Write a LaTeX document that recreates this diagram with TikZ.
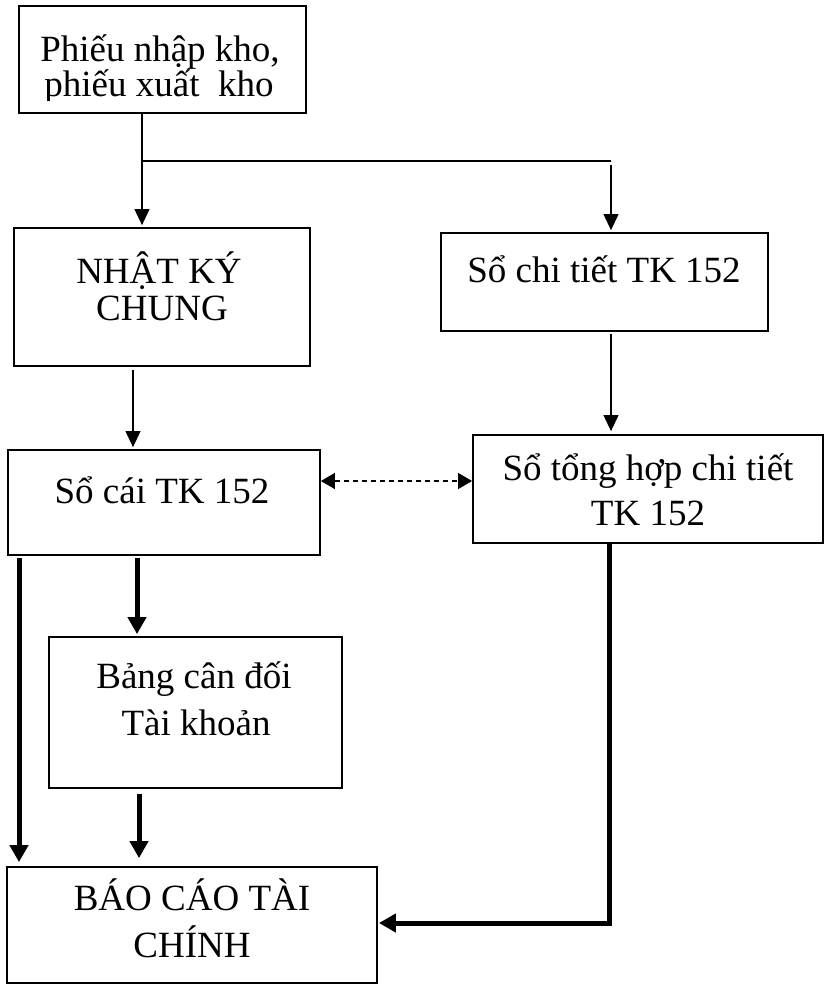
\documentclass[tikz,border=0pt]{standalone}
\usepackage{fontspec}
\setmainfont{Liberation Serif}
\usetikzlibrary{arrows.meta}

\tikzset{
  box/.style={draw, line width=1.8pt, rectangle, inner sep=0pt},
  lbl/.style={anchor=base, inner sep=0pt, font=\fontsize{37}{44}\selectfont},
  thinarrow/.style={line width=1.1pt, -{Triangle[length=16pt, width=15pt]}},
  thickarrow/.style={line width=5pt, -{Triangle[length=17pt, width=18pt]}},
  linkarrow/.style={line width=1.1pt, dash pattern=on 5pt off 4pt,
    {Triangle[length=14pt, width=16pt]}-{Triangle[length=14pt, width=16pt]}},
}

\begin{document}
\begin{tikzpicture}[x=1pt, y=-1pt]
  \useasboundingbox (0,0) rectangle (827,987);

  % boxes
  \node[box, minimum width=287pt, minimum height=107pt] (A) at (162.5,59.5) {};
  \node[box, minimum width=296pt, minimum height=138pt] (B) at (162,297) {};
  \node[box, minimum width=327pt, minimum height=98pt]  (C) at (604.5,282) {};
  \node[box, minimum width=350pt, minimum height=108pt] (D) at (648,489) {};
  \node[box, minimum width=312pt, minimum height=105pt] (E) at (164,502.5) {};
  \node[box, minimum width=293pt, minimum height=151pt] (F) at (195.5,712.5) {};
  \node[box, minimum width=370pt, minimum height=116pt] (G) at (192,925) {};

  % labels
  \node[lbl] (A1) at (160,62) {Phiếu nhập kho,};
  \begin{scope}
    % second line sits in a fixed-height row, so its descenders are cut off
    \clip (20,66) rectangle (305,100.5);
    \node[lbl] (A2) at (159,97) {phiếu xuất\ \ kho};
  \end{scope}
  \node[lbl] (B1) at (159,283) {NHẬT KÝ};
  \node[lbl] (B2) at (162,320) {CHUNG};
  \node[lbl] (C1) at (604,282) {Sổ chi tiết TK 152};
  \node[lbl] (D1) at (648,480) {Sổ tổng hợp chi tiết};
  \node[lbl] (D2) at (648,525) {TK 152};
  \node[lbl] (E1) at (162,503) {Sổ cái TK 152};
  \node[lbl] (F1) at (194,688) {Bảng cân đối};
  \node[lbl] (F2) at (196,735) {Tài khoản};
  \node[lbl] (G1) at (192,910) {BÁO CÁO TÀI};
  \node[lbl] (G2) at (192,957) {CHÍNH};

  % junction points
  \coordinate (jA) at (142,161);
  \coordinate (jC) at (611,161);
  \coordinate (xBE) at (133,0);
  \coordinate (xEF) at (137,0);
  \coordinate (xFG) at (139,0);
  \coordinate (xEG) at (19,0);
  \coordinate (xDG) at (609,0);
  \coordinate (yLink) at (0,481);
  \coordinate (yBend) at (0,923);

  % thin arrows
  \draw[line width=1.1pt] (A.south -| jA) -- (jA) -- (jC);
  \draw[thinarrow, shorten >=2pt] (jA) -- (jA |- B.north);
  \draw[thinarrow, shorten >=2pt] ([yshift=-4pt]jC) -- (jC |- C.north);
  \draw[thinarrow, shorten <=2pt, shorten >=3pt] (C.south -| jC) -- (jC |- D.north);
  \draw[thinarrow, shorten <=3pt, shorten >=2pt] (B.south -| xBE) -- (E.north -| xBE);

  % dashed two-way link
  \draw[linkarrow] (E.east |- yLink) -- (D.west |- yLink);

  % thick arrows
  \draw[thickarrow, shorten <=2pt, shorten >=4pt] (E.south -| xEG) -- (G.north -| xEG);
  \draw[thickarrow, shorten <=2pt, shorten >=2pt] (E.south -| xEF) -- (F.north -| xEF);
  \draw[thickarrow, shorten <=5pt, shorten >=8pt] (F.south -| xFG) -- (G.north -| xFG);
  \draw[thickarrow, shorten >=1pt] (D.south -| xDG) -- (xDG |- yBend) -- (G.east |- yBend);
\end{tikzpicture}
\end{document}
